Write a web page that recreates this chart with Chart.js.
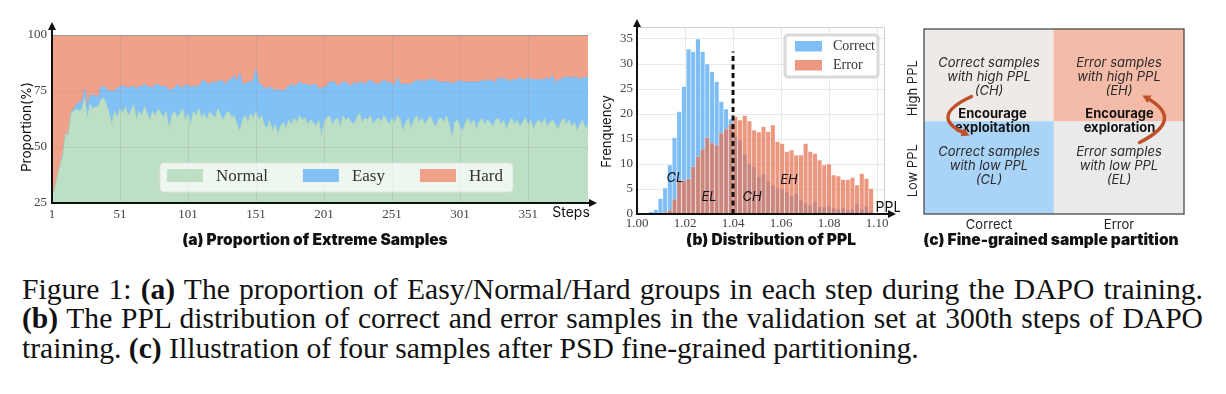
<!DOCTYPE html>
<html>
<head>
<meta charset="utf-8">
<title>Figure 1</title>
<script src="https://cdn.jsdelivr.net/npm/chart.js@4.4.1/dist/chart.umd.min.js"></script>
<style>
  html, body { margin: 0; padding: 0; background: #fff; }
  body { width: 1226px; height: 394px; position: relative; overflow: hidden; }
  canvas { position: absolute; top: 0; }
  .sub { position: absolute; top: 231px; font: 900 15.5px Inter, sans-serif; line-height: 18px; color: #111; white-space: nowrap; transform: translateX(-50%); }
  .cap { position: absolute; left: 22px; width: 1181px; font-family: "Liberation Serif", "Times New Roman", serif; font-size: 29.6px; line-height: 30px; color: #111; white-space: nowrap; }
  .cap.j { text-align: justify; text-align-last: justify; white-space: normal; }
</style>
</head>
<body>
<canvas id="chartA" width="610" height="240" style="left:0"></canvas>
<canvas id="chartB" width="300" height="240" style="left:600px"></canvas>
<canvas id="chartC" width="326" height="240" style="left:900px"></canvas>
<div class="sub" style="left:315px">(a) Proportion of Extreme Samples</div>
<div class="sub" style="left:771px">(b) Distribution of PPL</div>
<div class="sub" style="left:1051px">(c) Fine-grained sample partition</div>
<div class="cap j" style="top:274px">Figure 1: <b>(a)</b> The proportion of Easy/Normal/Hard groups in each step during the DAPO training.</div>
<div class="cap j" style="top:303px"><b>(b)</b> The PPL distribution of correct and error samples in the validation set at 300th steps of DAPO</div>
<div class="cap" style="top:333px">training. <b>(c)</b> Illustration of four samples after PSD fine-grained partitioning.</div>

<script>
// ---------- (a) share of Normal / Easy groups, read every other step ----------
const stepTicks = [1, 51, 101, 151, 201, 251, 301, 351];
const propTicks = [25, 50, 75, 100];
const normalPct = [
  28.5, 31, 37, 42, 46, 56, 55, 65, 66, 67,
  66, 67, 72, 63, 69, 67, 68, 68, 71, 72,
  69, 65, 60, 66, 63, 67, 65, 68, 64, 66,
  69, 62, 66, 64, 68, 65, 62, 66, 64, 67,
  65, 63, 66, 58, 64, 66, 63, 65, 67, 62,
  65, 60, 66, 64, 67, 63, 65, 62, 66, 64,
  63, 67, 64, 62, 65, 66, 63, 64, 60, 57,
  62, 64, 61, 65, 63, 66, 62, 64, 60, 58,
  62, 57, 60, 56, 59, 61, 58, 62, 60, 63,
  61, 64, 62, 63, 60, 62, 61, 59, 62, 55,
  61, 63, 64, 60, 62, 63, 59, 64, 62, 63,
  61, 60, 63, 65, 61, 63, 62, 64, 60, 62,
  63, 61, 64, 62, 60, 63, 61, 64, 62, 57,
  61, 63, 58, 62, 64, 61, 63, 60, 62, 64,
  61, 59, 62, 63, 61, 64, 60, 54, 61, 62,
  59, 57, 61, 63, 60, 62, 58, 61, 63, 60,
  62, 61, 59, 62, 63, 60, 62, 58, 61, 63,
  60, 62, 59, 61, 63, 60, 62, 58, 61, 62,
  60, 63, 59, 61, 62, 60, 58, 61, 63, 60,
  62, 59, 61, 57, 60, 62, 58, 60
];
const easyPct = [
  0, 0, 0, 0, 0.5, 0, 0.6, 0.5, 1, 2,
  4, 3, 4, 5, 4, 6, 5, 4, 6, 5,
  7, 10, 15, 9, 13, 10, 12, 9, 12, 11,
  8, 14, 11, 13, 10, 12, 15, 10, 14, 11,
  12, 14, 11, 17, 12, 10, 15, 12, 9, 16,
  12, 17, 11, 13, 10, 16, 15, 16, 12, 15,
  16, 12, 16, 17, 13, 14, 17, 18, 19, 26,
  16, 14, 18, 14, 17, 19, 16, 14, 16, 18,
  15, 19, 15, 20, 16, 14, 18, 15, 18, 14,
  17, 15, 16, 15, 18, 15, 17, 19, 14, 21,
  16, 14, 15, 19, 17, 14, 19, 15, 17, 15,
  16, 19, 15, 14, 18, 15, 17, 16, 19, 16,
  15, 18, 16, 17, 19, 15, 17, 17, 16, 21,
  17, 15, 20, 17, 16, 18, 17, 19, 18, 16,
  19, 21, 17, 16, 18, 15, 19, 24, 18, 17,
  21, 22, 18, 16, 19, 17, 21, 18, 17, 19,
  18, 19, 20, 17, 18, 20, 19, 22, 18, 17,
  20, 18, 22, 19, 17, 21, 18, 22, 19, 18,
  20, 17, 22, 19, 20, 18, 22, 19, 18, 21,
  19, 22, 20, 24, 20, 19, 23, 21
];
const steps = normalPct.map((_, i) => 1 + 2 * i);
const hardPct = normalPct.map((n, i) => +(100 - n - easyPct[i]).toFixed(1));

// ---------- (b) PPL histogram ----------
const pplTicks = [1.00, 1.02, 1.04, 1.06, 1.08, 1.10];
const freqTicks = [0, 5, 10, 15, 20, 25, 30, 35];
const pplBins = [
  1.00198, 1.00393, 1.00588, 1.00783, 1.00978, 1.01173, 1.01368, 1.01563, 1.01758, 1.01953,
  1.02148, 1.02343, 1.02538, 1.02733, 1.02928, 1.03123, 1.03318, 1.03513, 1.03708, 1.03903,
  1.04098, 1.04293, 1.04488, 1.04683, 1.04878, 1.05073, 1.05268, 1.05463, 1.05658, 1.05853,
  1.06048, 1.06243, 1.06438, 1.06633, 1.06828, 1.07023, 1.07218, 1.07413, 1.07608, 1.07803,
  1.07998, 1.08193, 1.08388, 1.08583, 1.08778, 1.08973, 1.09168, 1.09363, 1.09558, 1.09753
];
const correctFreq = [
  0, 0.2, 0.5, 0.9, 3.1, 5.2, 9.8, 15.3, 20.5, 25.5,
  33, 32.5, 35, 32.5, 30, 28.5, 26.5, 22.5, 21, 19,
  15.5, 14.8, 12, 10, 9.5, 7.5, 8, 6.6, 5.8, 5.2,
  5, 4.4, 3.6, 4.2, 2.8, 2.2, 1.8, 2.5, 1.5, 1.4,
  1.6, 1.2, 1.0, 1.3, 0.8, 1.0, 2.0, 1.0, 1.6, 0.6
];
const errorFreq = [
  0, 0, 0, 0, 0, 0.4, 0.8, 3, 6.8, 6.7,
  7.1, 9.5, 11.5, 13, 15.3, 14.2, 13.8, 16.2, 17, 18,
  19.5, 18.8, 19.7, 18.6, 16.8, 16.4, 17.5, 16.5, 17.8, 14.5,
  14.1, 12.5, 12.8, 11.8, 11.8, 14.1, 12.5, 12.1, 10.8, 9.8,
  10, 7.8, 7.6, 6.9, 6.9, 7.3, 5.8, 8.1, 7.1, 5.1
];
const pplThreshold = 1.04;
const thresholdTop = 32.5;
const regionTags = [
  { text: 'CL', ppl: 1.0158, freq: 7.2 },
  { text: 'EL', ppl: 1.0300, freq: 3.4 },
  { text: 'CH', ppl: 1.0479, freq: 3.4 },
  { text: 'EH', ppl: 1.0633, freq: 6.8 }
];

// ---------- (c) partition grid ----------
const outcomes = ['Correct', 'Error'];
const pplLevels = ['Low PPL', 'High PPL'];
const lowNotes = [['Correct samples', 'with low PPL', '(CL)'], ['Error samples', 'with low PPL', '(EL)']];
const highNotes = [['Correct samples', 'with high PPL', '(CH)'], ['Error samples', 'with high PPL', '(EH)']];
const centerNotes = [['Encourage', 'exploitation'], ['Encourage', 'exploration']];

Chart.defaults.animation = false;
Chart.defaults.responsive = false;
Chart.defaults.devicePixelRatio = 1;
Chart.defaults.plugins.legend.display = false;
Chart.defaults.plugins.tooltip.enabled = false;

const SERIF = "'Liberation Serif', 'Times New Roman', serif";
const SANS = "Inter, 'Noto Sans', sans-serif";
const fixW = (w) => (s) => { s.width = w; };
const fixH = (h) => (s) => { s.height = h; };

function drawAxes(ctx, a, xTip, yTip) {
  ctx.strokeStyle = '#111';
  ctx.fillStyle = '#111';
  ctx.lineWidth = 2;
  ctx.beginPath();
  ctx.moveTo(a.left, yTip + 6);
  ctx.lineTo(a.left, a.bottom);
  ctx.lineTo(xTip - 6, a.bottom);
  ctx.stroke();
  ctx.beginPath();
  ctx.moveTo(a.left, yTip); ctx.lineTo(a.left - 4, yTip + 8); ctx.lineTo(a.left + 4, yTip + 8);
  ctx.closePath(); ctx.fill();
  ctx.beginPath();
  ctx.moveTo(xTip, a.bottom); ctx.lineTo(xTip - 8, a.bottom - 4); ctx.lineTo(xTip - 8, a.bottom + 4);
  ctx.closePath(); ctx.fill();
}

function rotatedText(ctx, text, x, y) {
  ctx.save();
  ctx.translate(x, y);
  ctx.rotate(-Math.PI / 2);
  ctx.fillText(text, 0, 0);
  ctx.restore();
}

// ---------- (a) ----------
const panelA = {
  id: 'panelA',
  afterDraw(chart) {
    const { ctx, chartArea: a } = chart;
    ctx.save();
    ctx.strokeStyle = '#9a9a9a';
    ctx.lineWidth = 1;
    ctx.beginPath(); ctx.moveTo(a.left, a.top + 0.5); ctx.lineTo(a.right, a.top + 0.5); ctx.stroke();

    // legend box inside the plot
    const bx = a.left + 108, by = a.top + 128;
    ctx.fillStyle = 'rgba(255,255,255,0.72)';
    ctx.strokeStyle = 'rgba(225,225,225,0.9)';
    ctx.beginPath(); ctx.roundRect(bx, by, 353, 29, 4); ctx.fill(); ctx.stroke();
    ctx.font = `17px ${SERIF}`;
    ctx.textBaseline = 'middle';
    ctx.textAlign = 'left';
    let lx = bx + 7;
    chart.data.datasets.forEach((ds) => {
      ctx.fillStyle = ds.backgroundColor;
      ctx.fillRect(lx, by + 6, 36, 13);
      ctx.fillStyle = '#333';
      ctx.fillText(ds.label, lx + 49, by + 13.5);
      lx += 49 + ctx.measureText(ds.label).width + 35;
    });

    drawAxes(ctx, a, a.right + 9, a.top - 13);
    ctx.fillStyle = '#111';
    ctx.font = `14px ${SANS}`;
    ctx.textAlign = 'center';
    ctx.fillText('Steps', a.right - 17, a.bottom + 9.5);
    ctx.font = `13.5px ${SANS}`;
    rotatedText(ctx, 'Proportion(%)', 27, (a.top + a.bottom) / 2 + 8);
    ctx.restore();
  }
};

const pts = (xs, ys) => xs.map((x, i) => ({ x, y: ys[i] }));

new Chart(document.getElementById('chartA'), {
  type: 'line',
  data: {
    datasets: [
      { label: 'Normal', data: pts(steps, normalPct), backgroundColor: '#bddfc5', borderColor: '#add5b6', fill: 'start' },
      { label: 'Easy', data: pts(steps, easyPct), backgroundColor: '#82c1f5', borderColor: '#72b5ee', fill: '-1' },
      { label: 'Hard', data: pts(steps, hardPct), backgroundColor: '#f0a189', borderColor: '#e8937b', fill: '-1' }
    ]
  },
  options: {
    layout: { padding: { left: 0, top: 35, right: 22, bottom: 17 } },
    elements: { point: { radius: 0 }, line: { borderWidth: 0.8, tension: 0 } },
    scales: {
      x: {
        type: 'linear', min: 1, max: 395,
        afterBuildTicks: (s) => { s.ticks = stepTicks.map((v) => ({ value: v })); },
        afterFit: fixH(20),
        grid: { color: 'rgba(140,140,140,0.2)', drawTicks: false, z: 1 },
        border: { display: false },
        ticks: { padding: 4, color: '#444', font: { family: SERIF, size: 13 } }
      },
      y: {
        stacked: true, min: 25, max: 100,
        afterBuildTicks: (s) => { s.ticks = propTicks.map((v) => ({ value: v })); },
        afterFit: fixW(52),
        grid: { color: 'rgba(140,140,140,0.2)', drawTicks: false, z: 1 },
        border: { display: false },
        ticks: { padding: 5, color: '#444', font: { family: SERIF, size: 13 } }
      }
    }
  },
  plugins: [panelA]
});

// ---------- (b) ----------
const panelB = {
  id: 'panelB',
  afterDatasetsDraw(chart) {
    const { ctx, chartArea: a, scales: { x, y } } = chart;
    ctx.save();
    ctx.strokeStyle = '#cfcfcf';
    ctx.lineWidth = 1;
    ctx.beginPath();
    ctx.moveTo(a.left, a.top + 0.5); ctx.lineTo(a.right - 0.5, a.top + 0.5); ctx.lineTo(a.right - 0.5, a.bottom);
    ctx.stroke();

    const tx = x.getPixelForValue(pplThreshold);
    ctx.strokeStyle = '#111';
    ctx.lineWidth = 3;
    ctx.setLineDash([5, 3.5]);
    ctx.beginPath(); ctx.moveTo(tx, y.getPixelForValue(0)); ctx.lineTo(tx, y.getPixelForValue(thresholdTop)); ctx.stroke();
    ctx.setLineDash([]);

    ctx.fillStyle = '#111';
    ctx.font = `italic 13px ${SANS}`;
    ctx.textAlign = 'center';
    ctx.textBaseline = 'middle';
    regionTags.forEach((t) => ctx.fillText(t.text, x.getPixelForValue(t.ppl), y.getPixelForValue(t.freq)));

    const bx = a.right - 100, by = a.top + 8;
    ctx.fillStyle = '#fff';
    ctx.strokeStyle = '#dadada';
    ctx.beginPath(); ctx.roundRect(bx, by, 93, 42, 3); ctx.fill(); ctx.stroke();
    ctx.font = `14px ${SERIF}`;
    ctx.textAlign = 'left';
    chart.data.datasets.forEach((ds, i) => {
      const ry = by + 11 + i * 19;
      ctx.fillStyle = ds.backgroundColor;
      ctx.fillRect(bx + 10, ry - 5, 27, 10.5);
      ctx.fillStyle = '#333';
      ctx.fillText(ds.label, bx + 48, ry);
    });
    ctx.restore();
  },
  afterDraw(chart) {
    const { ctx, chartArea: a } = chart;
    ctx.save();
    drawAxes(ctx, a, a.right + 11, a.top - 8);
    ctx.fillStyle = '#111';
    ctx.font = `14px ${SANS}`;
    ctx.textAlign = 'center';
    ctx.textBaseline = 'middle';
    ctx.fillText('PPL', a.right + 3.5, a.bottom - 6);
    ctx.font = `13px ${SANS}`;
    rotatedText(ctx, 'Frenquency', 7, (a.top + a.bottom) / 2 + 11);
    ctx.restore();
  }
};

new Chart(document.getElementById('chartB'), {
  type: 'bar',
  data: {
    datasets: [
      { label: 'Correct', data: pts(pplBins, correctFreq), backgroundColor: 'rgb(127,190,245)', order: 2 },
      { label: 'Error', data: pts(pplBins, errorFreq), backgroundColor: 'rgba(228,112,80,0.72)', order: 1 }
    ]
  },
  options: {
    layout: { padding: { left: 0, top: 27, right: 15, bottom: 8 } },
    datasets: { bar: { grouped: false, barPercentage: 1, categoryPercentage: 1, borderWidth: 0.6, borderColor: 'rgba(255,255,255,0.45)' } },
    scales: {
      x: {
        type: 'linear', offset: false, min: 1.0, max: 1.1033,
        afterBuildTicks: (s) => { s.ticks = pplTicks.map((v) => ({ value: v })); },
        afterFit: fixH(18),
        grid: { color: '#e9e9e9', drawTicks: false, offset: false },
        border: { display: false },
        ticks: { padding: 2, color: '#444', font: { family: SERIF, size: 13 }, callback: (v) => v.toFixed(2) }
      },
      y: {
        min: 0, max: 37.4,
        afterBuildTicks: (s) => { s.ticks = freqTicks.map((v) => ({ value: v })); },
        afterFit: fixW(37),
        grid: { color: '#e9e9e9', drawTicks: false },
        border: { display: false },
        ticks: { padding: 4, color: '#444', font: { family: SERIF, size: 13 } }
      }
    }
  },
  plugins: [panelB]
});

// ---------- (c) ----------
function curvedArrow(ctx, p0, c, p2) {
  const ang = Math.atan2(p2[1] - c[1], p2[0] - c[0]);
  const head = 9;
  ctx.beginPath();
  ctx.moveTo(p0[0], p0[1]);
  ctx.quadraticCurveTo(c[0], c[1], p2[0] - Math.cos(ang) * 5, p2[1] - Math.sin(ang) * 5);
  ctx.stroke();
  ctx.beginPath();
  ctx.moveTo(p2[0], p2[1]);
  ctx.lineTo(p2[0] - Math.cos(ang - 0.5) * head, p2[1] - Math.sin(ang - 0.5) * head);
  ctx.lineTo(p2[0] - Math.cos(ang + 0.5) * head, p2[1] - Math.sin(ang + 0.5) * head);
  ctx.closePath();
  ctx.fill();
}

const panelC = {
  id: 'panelC',
  afterDraw(chart) {
    const { ctx, chartArea: a, scales: { x, y } } = chart;
    ctx.save();
    ctx.strokeStyle = '#4a4a4a';
    ctx.lineWidth = 1.3;
    ctx.strokeRect(a.left, a.top, a.right - a.left, a.bottom - a.top);

    ctx.fillStyle = '#222';
    ctx.font = `13px ${SANS}`;
    ctx.textAlign = 'center';
    ctx.textBaseline = 'middle';
    chart.data.datasets.forEach((ds, r) => {
      rotatedText(ctx, ds.label, a.left - 11, y.getPixelForValue(r + 0.5) + (r ? 13 : 3));
    });

    ctx.fillStyle = '#2a2a2a';
    ctx.font = `italic 13px ${SANS}`;
    [lowNotes, highNotes].forEach((notes, r) => {
      const cy = y.getPixelForValue(r + 0.5) + (r ? 1.5 : -2);
      notes.forEach((lines, c) => {
        const cx = x.getPixelForValue(c);
        lines.forEach((t, k) => ctx.fillText(t, cx, cy + (k - 1) * 14));
      });
    });

    const mid = y.getPixelForValue(1);
    ctx.fillStyle = '#111';
    ctx.font = `bold 13px ${SANS}`;
    centerNotes.forEach((lines, c) => {
      const cx = x.getPixelForValue(c) + (c ? 0.5 : 3.5);
      ctx.fillText(lines[0], cx, mid - 7.5);
      ctx.fillText(lines[1], cx, mid + 7);
    });

    ctx.strokeStyle = '#c0502a';
    ctx.fillStyle = '#c0502a';
    ctx.lineWidth = 3.5;
    ctx.lineCap = 'round';
    const c0 = x.getPixelForValue(0), c1 = x.getPixelForValue(1);
    curvedArrow(ctx, [c0 - 17.5, mid - 25], [c0 - 61, mid - 5], [c0 - 19.5, mid + 14]);
    curvedArrow(ctx, [c1 + 20.5, mid + 21], [c1 + 66.5, mid - 2], [c1 + 23.5, mid - 26]);
    ctx.restore();
  }
};

new Chart(document.getElementById('chartC'), {
  type: 'bar',
  data: {
    labels: outcomes,
    datasets: [
      { label: pplLevels[0], data: [1, 1], backgroundColor: ['#aad4f7', '#eaeaea'] },
      { label: pplLevels[1], data: [1, 1], backgroundColor: ['#eeeae8', '#f4bca8'] }
    ]
  },
  options: {
    layout: { padding: { left: 0, top: 29, right: 42, bottom: 8 } },
    datasets: { bar: { barPercentage: 1, categoryPercentage: 1, borderWidth: 0 } },
    scales: {
      x: {
        stacked: true,
        afterFit: fixH(18),
        grid: { display: false, drawTicks: false },
        border: { display: false },
        ticks: { padding: 3, color: '#222', font: { family: SANS, size: 13 } }
      },
      y: {
        stacked: true, min: 0, max: 2,
        afterFit: fixW(24),
        grid: { display: false, drawTicks: false },
        border: { display: false },
        ticks: { display: false }
      }
    }
  },
  plugins: [panelC]
});
</script>
</body>
</html>
